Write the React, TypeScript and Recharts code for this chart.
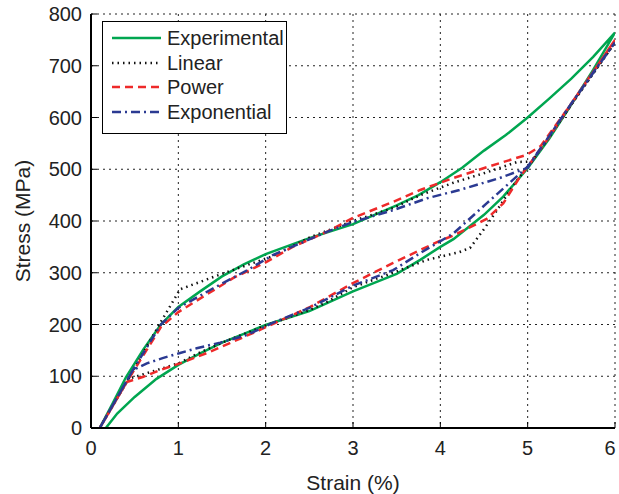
import React from "react";
import {
  LineChart,
  Line,
  XAxis,
  YAxis,
  CartesianGrid,
  Legend,
} from "recharts";

// [strain %, stress MPa], each series traced as a closed loop
const experimental = [
  [0.17, 0], [0.3, 28], [0.5, 60], [0.75, 95], [1, 122], [1.25, 144], [1.5, 165],
  [1.75, 182], [2, 199], [2.5, 226], [3, 264], [3.5, 298], [3.77, 325], [4, 350],
  [4.15, 365], [4.5, 412], [4.72, 447], [5, 502], [5.25, 560], [5.5, 625],
  [5.75, 692], [6, 764],
  [5.75, 717], [5.5, 675], [5.25, 637], [5, 600], [4.75, 566], [4.5, 536],
  [4.25, 503], [4, 475], [3.75, 450], [3.5, 430], [3, 394], [2.5, 367], [2, 336],
  [1.75, 316], [1.5, 293], [1.25, 264], [1, 234], [0.8, 200], [0.6, 152],
  [0.4, 98], [0.25, 48], [0.1, 0],
];

const linear = [
  [0.1, 0], [0.43, 95], [0.64, 106], [0.87, 118], [1.02, 126], [1.21, 143],
  [1.5, 165], [2, 198], [2.5, 228], [2.7, 243], [3, 272], [3.46, 300],
  [3.85, 325], [4, 331], [4.22, 340], [4.34, 348], [4.49, 382], [4.65, 421],
  [4.8, 460], [4.95, 495], [5, 505], [5.25, 563], [5.5, 625], [5.75, 685], [6, 745],
  [5.5, 625], [5.05, 515], [4.88, 514], [4.53, 494], [4.15, 474], [3.77, 450],
  [3.46, 425], [3, 400], [2.5, 368], [2.08, 332], [1.5, 298], [1.02, 268],
  [0.8, 205], [0.43, 95], [0.1, 0],
];

const power = [
  [0.1, 0], [0.41, 89], [0.6, 99], [0.79, 112], [1.02, 125], [1.33, 145],
  [1.59, 164], [1.94, 190], [2.51, 234], [3, 280], [3.46, 319], [3.77, 344],
  [4, 362], [4.15, 372], [4.53, 404], [4.72, 434], [4.91, 485], [5, 505],
  [5.25, 563], [5.5, 627], [5.75, 688], [6, 750],
  [5.5, 627], [5.15, 545], [4.99, 528], [4.53, 504], [4.15, 483], [3.77, 460],
  [3.46, 437], [3, 406], [2.7, 379], [2.31, 350], [2, 320], [1.63, 290],
  [1, 224], [0.8, 195], [0.41, 89], [0.1, 0],
];

const exponential = [
  [0.1, 0], [0.48, 112], [0.64, 125], [0.82, 135], [1.02, 145], [1.21, 154],
  [1.48, 165], [1.79, 180], [2.08, 203], [2.5, 232], [3, 275], [3.46, 305],
  [3.77, 338], [4.15, 376], [4.53, 434], [5, 505], [5.25, 565], [5.5, 627],
  [5.75, 687], [6, 745],
  [5.5, 627], [5, 503], [4.68, 483], [4.22, 460], [3.85, 444], [3.46, 421],
  [3, 398], [2.7, 379], [2.08, 334], [1.79, 305], [1.4, 270], [1, 232],
  [0.8, 200], [0.48, 112], [0.1, 0],
];

const xTicks = [0, 1, 2, 3, 4, 5, 6];
const yTicks = [0, 100, 200, 300, 400, 500, 600, 700, 800];

const series = [
  { name: "Experimental", points: experimental, color: "#00a650", dash: undefined },
  { name: "Linear", points: linear, color: "#111111", dash: "1.5 4" },
  { name: "Power", points: power, color: "#ee2a2a", dash: "8 5" },
  { name: "Exponential", points: exponential, color: "#2b3a92", dash: "9 4 2 4" },
];

const toRows = (pts: number[][]) => pts.map(([x, y]) => ({ x, y }));

const FONT = "'Liberation Sans', Arial, Helvetica, sans-serif";

const LeftTick = ({ x, y, payload }: any) => (
  <g>
    <line x1={x} y1={y} x2={x + 6} y2={y} stroke="#000" strokeWidth={1} />
    <text x={x - 9} y={y} textAnchor="end" dominantBaseline="central" fontSize={20} fill="#222" fontFamily={FONT}>
      {payload.value}
    </text>
  </g>
);

const BottomTick = ({ x, y, payload }: any) => {
  // last label sits against the page edge, as in the original
  const tx = payload.value === 6 ? x - 5 : x;
  return (
    <g>
      <line x1={x} y1={y} x2={x} y2={y - 6} stroke="#000" strokeWidth={1} />
      <text x={tx} y={y + 20} textAnchor="middle" dominantBaseline="central" fontSize={20} fill="#222" fontFamily={FONT}>
        {payload.value}
      </text>
    </g>
  );
};

const TopTick = ({ x, y }: any) => <line x1={x} y1={y} x2={x} y2={y + 6} stroke="#000" strokeWidth={1} />;
const RightTick = ({ x, y }: any) => <line x1={x} y1={y} x2={x - 6} y2={y} stroke="#000" strokeWidth={1} />;

const XTitle = ({ viewBox }: any) => (
  <text x={viewBox.x + viewBox.width / 2} y={viewBox.y + 54} textAnchor="middle" dominantBaseline="central"
    fontSize={21} fill="#222" fontFamily={FONT}>
    Strain (%)
  </text>
);

const YTitle = ({ viewBox }: any) => {
  const cx = viewBox.x + 22;
  const cy = viewBox.y + viewBox.height / 2;
  return (
    <text x={cx} y={cy} transform={`rotate(-90 ${cx} ${cy})`} textAnchor="middle" dominantBaseline="central"
      fontSize={21} fill="#222" fontFamily={FONT}>
      Stress (MPa)
    </text>
  );
};

const LegendBox = () => (
  <div
    style={{
      border: "1px solid #000",
      background: "#fff",
      width: 183,
      height: 107,
      boxSizing: "content-box",
      paddingTop: 4,
      fontFamily: FONT,
      fontSize: 20,
      color: "#222",
    }}
  >
    {series.map((s) => (
      <div key={s.name} style={{ display: "flex", alignItems: "center", height: 24.5, paddingLeft: 9 }}>
        <svg width={50} height={10} style={{ flex: "none" }}>
          <line x1={0} y1={5} x2={49} y2={5} stroke={s.color} strokeWidth={2.5} strokeDasharray={s.dash} />
        </svg>
        <span style={{ marginLeft: 5, lineHeight: "20px" }}>{s.name}</span>
      </div>
    ))}
  </div>
);

export default function App() {
  return (
    <div style={{ position: "absolute", left: 0, top: 0, width: 619, height: 494, background: "#fff" }}>
      <LineChart width={619} height={494} margin={{ top: 14, right: 4, bottom: 0, left: 0 }}>
        <CartesianGrid stroke="#222" strokeDasharray="2 4" strokeWidth={1} horizontalValues={yTicks} verticalValues={xTicks} />
        <XAxis
          type="number"
          dataKey="x"
          domain={[0, 6]}
          ticks={xTicks}
          height={66}
          tickSize={0}
          tickMargin={0}
          tick={<BottomTick />}
          axisLine={{ stroke: "#000", strokeWidth: 2 }}
          label={<XTitle />}
          allowDataOverflow
        />
        <XAxis
          xAxisId="t"
          orientation="top"
          type="number"
          dataKey="x"
          domain={[0, 6]}
          ticks={xTicks}
          height={0}
          tickSize={0}
          tickMargin={0}
          tick={<TopTick />}
          axisLine={{ stroke: "#000", strokeWidth: 2 }}
        />
        <YAxis
          type="number"
          domain={[0, 800]}
          ticks={yTicks}
          width={91}
          tickSize={0}
          tickMargin={0}
          tick={<LeftTick />}
          axisLine={{ stroke: "#000", strokeWidth: 2 }}
          label={<YTitle />}
          allowDataOverflow
        />
        <YAxis
          yAxisId="r"
          orientation="right"
          type="number"
          domain={[0, 800]}
          ticks={yTicks}
          width={0}
          tickSize={0}
          tickMargin={0}
          tick={<RightTick />}
          axisLine={{ stroke: "#000", strokeWidth: 2 }}
        />
        {series.map((s) => (
          <Line
            key={s.name}
            name={s.name}
            data={toRows(s.points)}
            dataKey="y"
            type="linear"
            stroke={s.color}
            strokeWidth={2.5}
            strokeDasharray={s.dash}
            dot={false}
            activeDot={false}
            isAnimationActive={false}
          />
        ))}
        <Legend
          layout="vertical"
          verticalAlign="middle"
          align="center"
          wrapperStyle={{ left: 102, top: 21, width: 185 }}
          content={<LegendBox />}
        />
      </LineChart>
    </div>
  );
}
